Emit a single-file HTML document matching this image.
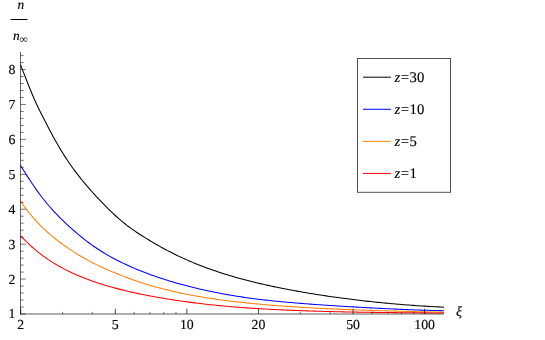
<!DOCTYPE html>
<html><head><meta charset="utf-8"><style>
html,body{margin:0;padding:0;background:#fff;}
svg{display:block;font-family:"Liberation Serif",serif;text-rendering:geometricPrecision;}
.t{filter:grayscale(1);stroke:#000;stroke-width:0.15px;}
</style></head><body>
<svg width="545" height="340" viewBox="0 0 545 340">
<rect width="545" height="340" fill="#fff"/>
<g fill="none" stroke-width="1.05" stroke-linejoin="round">
<path d="M20.50,64.75 L22.43,69.63 L24.37,74.58 L26.30,79.54 L28.24,84.45 L30.17,89.27 L32.10,93.96 L34.04,98.48 L35.97,102.80 L37.90,106.94 L39.84,110.93 L41.77,114.79 L43.71,118.57 L45.64,122.30 L47.57,125.99 L49.51,129.66 L51.44,133.31 L53.37,136.90 L55.31,140.41 L57.24,143.82 L59.18,147.15 L61.11,150.39 L63.04,153.54 L64.98,156.60 L66.91,159.58 L68.84,162.46 L70.78,165.25 L72.71,167.96 L74.65,170.59 L76.58,173.15 L78.51,175.65 L80.45,178.09 L82.38,180.47 L84.32,182.80 L86.25,185.10 L88.18,187.35 L90.12,189.57 L92.05,191.76 L93.98,193.92 L95.92,196.04 L97.85,198.13 L99.79,200.19 L101.72,202.22 L103.65,204.21 L105.59,206.18 L107.52,208.11 L109.45,210.02 L111.39,211.88 L113.32,213.71 L115.26,215.50 L117.19,217.25 L119.12,218.95 L121.06,220.61 L122.99,222.22 L124.92,223.78 L126.86,225.29 L128.79,226.75 L130.73,228.18 L132.66,229.56 L134.59,230.90 L136.53,232.21 L138.46,233.49 L140.39,234.74 L142.33,235.97 L144.26,237.18 L146.20,238.38 L148.13,239.57 L150.06,240.75 L152.00,241.91 L153.93,243.05 L155.87,244.18 L157.80,245.29 L159.73,246.39 L161.67,247.47 L163.60,248.52 L165.53,249.56 L167.47,250.59 L169.40,251.59 L171.34,252.58 L173.27,253.55 L175.20,254.50 L177.14,255.43 L179.07,256.35 L181.00,257.26 L182.94,258.14 L184.87,259.02 L186.81,259.87 L188.74,260.72 L190.67,261.55 L192.61,262.36 L194.54,263.16 L196.47,263.95 L198.41,264.72 L200.34,265.48 L202.28,266.22 L204.21,266.96 L206.14,267.68 L208.08,268.39 L210.01,269.09 L211.95,269.77 L213.88,270.44 L215.81,271.11 L217.75,271.76 L219.68,272.40 L221.61,273.03 L223.55,273.64 L225.48,274.25 L227.42,274.85 L229.35,275.44 L231.28,276.01 L233.22,276.58 L235.15,277.14 L237.08,277.69 L239.02,278.23 L240.95,278.76 L242.89,279.28 L244.82,279.80 L246.75,280.30 L248.69,280.80 L250.62,281.29 L252.55,281.77 L254.49,282.25 L256.42,282.72 L258.36,283.18 L260.29,283.63 L262.22,284.08 L264.16,284.52 L266.09,284.95 L268.03,285.38 L269.96,285.80 L271.89,286.22 L273.83,286.63 L275.76,287.03 L277.69,287.43 L279.63,287.82 L281.56,288.21 L283.50,288.60 L285.43,288.97 L287.36,289.35 L289.30,289.72 L291.23,290.08 L293.16,290.44 L295.10,290.79 L297.03,291.14 L298.97,291.49 L300.90,291.83 L302.83,292.17 L304.77,292.50 L306.70,292.83 L308.63,293.15 L310.57,293.47 L312.50,293.79 L314.44,294.10 L316.37,294.41 L318.30,294.71 L320.24,295.01 L322.17,295.31 L324.11,295.60 L326.04,295.89 L327.97,296.18 L329.91,296.46 L331.84,296.73 L333.77,297.01 L335.71,297.28 L337.64,297.55 L339.58,297.81 L341.51,298.07 L343.44,298.32 L345.38,298.58 L347.31,298.83 L349.24,299.07 L351.18,299.31 L353.11,299.55 L355.05,299.79 L356.98,300.02 L358.91,300.25 L360.85,300.48 L362.78,300.70 L364.71,300.92 L366.65,301.14 L368.58,301.36 L370.52,301.57 L372.45,301.78 L374.38,301.98 L376.32,302.18 L378.25,302.38 L380.18,302.58 L382.12,302.77 L384.05,302.96 L385.99,303.14 L387.92,303.33 L389.85,303.50 L391.79,303.68 L393.72,303.85 L395.66,304.02 L397.59,304.18 L399.52,304.35 L401.46,304.50 L403.39,304.66 L405.32,304.81 L407.26,304.96 L409.19,305.10 L411.13,305.24 L413.06,305.38 L414.99,305.52 L416.93,305.65 L418.86,305.77 L420.79,305.90 L422.73,306.02 L424.66,306.14 L426.60,306.25 L428.53,306.37 L430.46,306.47 L432.40,306.58 L434.33,306.68 L436.26,306.78 L438.20,306.88 L440.13,306.97 L442.07,307.06 L444.00,307.15" stroke="#000000"/>
<path d="M20.50,165.45 L22.43,168.52 L24.37,171.58 L26.30,174.61 L28.24,177.61 L30.17,180.57 L32.10,183.47 L34.04,186.32 L35.97,189.11 L37.90,191.83 L39.84,194.48 L41.77,197.05 L43.71,199.53 L45.64,201.94 L47.57,204.26 L49.51,206.51 L51.44,208.69 L53.37,210.80 L55.31,212.86 L57.24,214.88 L59.18,216.84 L61.11,218.77 L63.04,220.66 L64.98,222.51 L66.91,224.32 L68.84,226.11 L70.78,227.86 L72.71,229.58 L74.65,231.27 L76.58,232.94 L78.51,234.57 L80.45,236.18 L82.38,237.76 L84.32,239.31 L86.25,240.81 L88.18,242.28 L90.12,243.71 L92.05,245.10 L93.98,246.46 L95.92,247.77 L97.85,249.06 L99.79,250.31 L101.72,251.53 L103.65,252.72 L105.59,253.87 L107.52,255.01 L109.45,256.11 L111.39,257.19 L113.32,258.24 L115.26,259.27 L117.19,260.27 L119.12,261.25 L121.06,262.21 L122.99,263.15 L124.92,264.07 L126.86,264.97 L128.79,265.85 L130.73,266.71 L132.66,267.56 L134.59,268.39 L136.53,269.20 L138.46,270.00 L140.39,270.78 L142.33,271.55 L144.26,272.30 L146.20,273.04 L148.13,273.76 L150.06,274.48 L152.00,275.18 L153.93,275.86 L155.87,276.54 L157.80,277.20 L159.73,277.85 L161.67,278.49 L163.60,279.12 L165.53,279.74 L167.47,280.34 L169.40,280.94 L171.34,281.52 L173.27,282.10 L175.20,282.66 L177.14,283.21 L179.07,283.76 L181.00,284.29 L182.94,284.82 L184.87,285.33 L186.81,285.84 L188.74,286.34 L190.67,286.83 L192.61,287.31 L194.54,287.78 L196.47,288.24 L198.41,288.70 L200.34,289.15 L202.28,289.59 L204.21,290.02 L206.14,290.44 L208.08,290.86 L210.01,291.27 L211.95,291.67 L213.88,292.06 L215.81,292.45 L217.75,292.83 L219.68,293.20 L221.61,293.56 L223.55,293.92 L225.48,294.27 L227.42,294.61 L229.35,294.95 L231.28,295.28 L233.22,295.60 L235.15,295.92 L237.08,296.23 L239.02,296.53 L240.95,296.82 L242.89,297.11 L244.82,297.40 L246.75,297.67 L248.69,297.94 L250.62,298.21 L252.55,298.47 L254.49,298.72 L256.42,298.97 L258.36,299.21 L260.29,299.45 L262.22,299.68 L264.16,299.90 L266.09,300.12 L268.03,300.34 L269.96,300.55 L271.89,300.75 L273.83,300.96 L275.76,301.15 L277.69,301.34 L279.63,301.53 L281.56,301.72 L283.50,301.90 L285.43,302.08 L287.36,302.25 L289.30,302.42 L291.23,302.59 L293.16,302.76 L295.10,302.92 L297.03,303.08 L298.97,303.24 L300.90,303.39 L302.83,303.54 L304.77,303.69 L306.70,303.84 L308.63,303.99 L310.57,304.13 L312.50,304.27 L314.44,304.41 L316.37,304.55 L318.30,304.69 L320.24,304.82 L322.17,304.95 L324.11,305.09 L326.04,305.21 L327.97,305.34 L329.91,305.47 L331.84,305.60 L333.77,305.72 L335.71,305.84 L337.64,305.96 L339.58,306.08 L341.51,306.20 L343.44,306.32 L345.38,306.44 L347.31,306.55 L349.24,306.67 L351.18,306.78 L353.11,306.89 L355.05,307.00 L356.98,307.11 L358.91,307.22 L360.85,307.33 L362.78,307.44 L364.71,307.54 L366.65,307.65 L368.58,307.75 L370.52,307.86 L372.45,307.96 L374.38,308.06 L376.32,308.16 L378.25,308.26 L380.18,308.36 L382.12,308.46 L384.05,308.56 L385.99,308.65 L387.92,308.75 L389.85,308.84 L391.79,308.93 L393.72,309.03 L395.66,309.11 L397.59,309.20 L399.52,309.29 L401.46,309.37 L403.39,309.46 L405.32,309.54 L407.26,309.61 L409.19,309.69 L411.13,309.77 L413.06,309.84 L414.99,309.91 L416.93,309.98 L418.86,310.04 L420.79,310.11 L422.73,310.17 L424.66,310.23 L426.60,310.29 L428.53,310.35 L430.46,310.40 L432.40,310.45 L434.33,310.50 L436.26,310.55 L438.20,310.59 L440.13,310.64 L442.07,310.68 L444.00,310.71" stroke="#0000ff"/>
<path d="M20.50,201.13 L22.43,203.88 L24.37,206.53 L26.30,209.10 L28.24,211.59 L30.17,213.99 L32.10,216.31 L34.04,218.55 L35.97,220.72 L37.90,222.81 L39.84,224.83 L41.77,226.78 L43.71,228.67 L45.64,230.49 L47.57,232.25 L49.51,233.96 L51.44,235.62 L53.37,237.22 L55.31,238.78 L57.24,240.30 L59.18,241.77 L61.11,243.21 L63.04,244.61 L64.98,245.98 L66.91,247.31 L68.84,248.62 L70.78,249.90 L72.71,251.15 L74.65,252.38 L76.58,253.59 L78.51,254.77 L80.45,255.93 L82.38,257.07 L84.32,258.19 L86.25,259.29 L88.18,260.36 L90.12,261.41 L92.05,262.43 L93.98,263.43 L95.92,264.40 L97.85,265.36 L99.79,266.28 L101.72,267.19 L103.65,268.08 L105.59,268.95 L107.52,269.81 L109.45,270.64 L111.39,271.46 L113.32,272.27 L115.26,273.06 L117.19,273.84 L119.12,274.61 L121.06,275.37 L122.99,276.12 L124.92,276.85 L126.86,277.58 L128.79,278.29 L130.73,278.99 L132.66,279.68 L134.59,280.36 L136.53,281.03 L138.46,281.68 L140.39,282.32 L142.33,282.95 L144.26,283.57 L146.20,284.18 L148.13,284.77 L150.06,285.36 L152.00,285.93 L153.93,286.49 L155.87,287.03 L157.80,287.57 L159.73,288.09 L161.67,288.60 L163.60,289.10 L165.53,289.59 L167.47,290.07 L169.40,290.54 L171.34,291.00 L173.27,291.44 L175.20,291.88 L177.14,292.31 L179.07,292.73 L181.00,293.13 L182.94,293.54 L184.87,293.93 L186.81,294.31 L188.74,294.68 L190.67,295.05 L192.61,295.41 L194.54,295.76 L196.47,296.10 L198.41,296.44 L200.34,296.77 L202.28,297.09 L204.21,297.41 L206.14,297.72 L208.08,298.02 L210.01,298.31 L211.95,298.60 L213.88,298.89 L215.81,299.17 L217.75,299.44 L219.68,299.71 L221.61,299.97 L223.55,300.22 L225.48,300.47 L227.42,300.72 L229.35,300.96 L231.28,301.20 L233.22,301.43 L235.15,301.66 L237.08,301.88 L239.02,302.10 L240.95,302.31 L242.89,302.52 L244.82,302.72 L246.75,302.92 L248.69,303.12 L250.62,303.32 L252.55,303.51 L254.49,303.69 L256.42,303.87 L258.36,304.05 L260.29,304.23 L262.22,304.40 L264.16,304.57 L266.09,304.74 L268.03,304.90 L269.96,305.06 L271.89,305.21 L273.83,305.37 L275.76,305.52 L277.69,305.67 L279.63,305.81 L281.56,305.95 L283.50,306.09 L285.43,306.23 L287.36,306.37 L289.30,306.50 L291.23,306.63 L293.16,306.76 L295.10,306.88 L297.03,307.01 L298.97,307.13 L300.90,307.25 L302.83,307.36 L304.77,307.48 L306.70,307.59 L308.63,307.70 L310.57,307.81 L312.50,307.91 L314.44,308.02 L316.37,308.12 L318.30,308.22 L320.24,308.32 L322.17,308.42 L324.11,308.52 L326.04,308.61 L327.97,308.70 L329.91,308.79 L331.84,308.88 L333.77,308.97 L335.71,309.06 L337.64,309.14 L339.58,309.23 L341.51,309.31 L343.44,309.39 L345.38,309.47 L347.31,309.55 L349.24,309.62 L351.18,309.70 L353.11,309.77 L355.05,309.85 L356.98,309.92 L358.91,309.99 L360.85,310.06 L362.78,310.13 L364.71,310.19 L366.65,310.26 L368.58,310.32 L370.52,310.39 L372.45,310.45 L374.38,310.51 L376.32,310.57 L378.25,310.63 L380.18,310.69 L382.12,310.75 L384.05,310.81 L385.99,310.86 L387.92,310.92 L389.85,310.97 L391.79,311.03 L393.72,311.08 L395.66,311.13 L397.59,311.18 L399.52,311.23 L401.46,311.28 L403.39,311.33 L405.32,311.38 L407.26,311.42 L409.19,311.47 L411.13,311.52 L413.06,311.56 L414.99,311.61 L416.93,311.65 L418.86,311.69 L420.79,311.73 L422.73,311.77 L424.66,311.82 L426.60,311.86 L428.53,311.90 L430.46,311.93 L432.40,311.97 L434.33,312.01 L436.26,312.05 L438.20,312.08 L440.13,312.12 L442.07,312.15 L444.00,312.19" stroke="#ff8000"/>
<path d="M20.50,235.53 L22.43,237.62 L24.37,239.63 L26.30,241.58 L28.24,243.45 L30.17,245.26 L32.10,247.01 L34.04,248.70 L35.97,250.33 L37.90,251.91 L39.84,253.43 L41.77,254.91 L43.71,256.34 L45.64,257.72 L47.57,259.06 L49.51,260.35 L51.44,261.61 L53.37,262.82 L55.31,264.00 L57.24,265.14 L59.18,266.25 L61.11,267.33 L63.04,268.37 L64.98,269.39 L66.91,270.37 L68.84,271.33 L70.78,272.26 L72.71,273.16 L74.65,274.04 L76.58,274.90 L78.51,275.73 L80.45,276.54 L82.38,277.33 L84.32,278.09 L86.25,278.84 L88.18,279.57 L90.12,280.28 L92.05,280.98 L93.98,281.65 L95.92,282.31 L97.85,282.95 L99.79,283.58 L101.72,284.20 L103.65,284.79 L105.59,285.38 L107.52,285.95 L109.45,286.51 L111.39,287.06 L113.32,287.59 L115.26,288.12 L117.19,288.63 L119.12,289.13 L121.06,289.62 L122.99,290.10 L124.92,290.57 L126.86,291.04 L128.79,291.49 L130.73,291.93 L132.66,292.37 L134.59,292.79 L136.53,293.21 L138.46,293.62 L140.39,294.03 L142.33,294.42 L144.26,294.81 L146.20,295.19 L148.13,295.57 L150.06,295.93 L152.00,296.30 L153.93,296.65 L155.87,297.00 L157.80,297.34 L159.73,297.68 L161.67,298.01 L163.60,298.34 L165.53,298.66 L167.47,298.98 L169.40,299.29 L171.34,299.59 L173.27,299.89 L175.20,300.19 L177.14,300.48 L179.07,300.76 L181.00,301.04 L182.94,301.32 L184.87,301.59 L186.81,301.85 L188.74,302.11 L190.67,302.36 L192.61,302.61 L194.54,302.86 L196.47,303.10 L198.41,303.33 L200.34,303.56 L202.28,303.79 L204.21,304.01 L206.14,304.23 L208.08,304.44 L210.01,304.65 L211.95,304.85 L213.88,305.05 L215.81,305.25 L217.75,305.44 L219.68,305.63 L221.61,305.81 L223.55,305.99 L225.48,306.17 L227.42,306.34 L229.35,306.51 L231.28,306.67 L233.22,306.84 L235.15,306.99 L237.08,307.15 L239.02,307.30 L240.95,307.45 L242.89,307.59 L244.82,307.73 L246.75,307.87 L248.69,308.00 L250.62,308.14 L252.55,308.27 L254.49,308.39 L256.42,308.51 L258.36,308.63 L260.29,308.75 L262.22,308.87 L264.16,308.98 L266.09,309.09 L268.03,309.20 L269.96,309.30 L271.89,309.40 L273.83,309.50 L275.76,309.60 L277.69,309.69 L279.63,309.79 L281.56,309.88 L283.50,309.97 L285.43,310.05 L287.36,310.14 L289.30,310.22 L291.23,310.30 L293.16,310.38 L295.10,310.45 L297.03,310.53 L298.97,310.60 L300.90,310.67 L302.83,310.74 L304.77,310.81 L306.70,310.88 L308.63,310.94 L310.57,311.00 L312.50,311.07 L314.44,311.13 L316.37,311.18 L318.30,311.24 L320.24,311.30 L322.17,311.35 L324.11,311.40 L326.04,311.45 L327.97,311.50 L329.91,311.55 L331.84,311.60 L333.77,311.65 L335.71,311.69 L337.64,311.74 L339.58,311.78 L341.51,311.82 L343.44,311.86 L345.38,311.90 L347.31,311.94 L349.24,311.98 L351.18,312.02 L353.11,312.05 L355.05,312.09 L356.98,312.12 L358.91,312.16 L360.85,312.19 L362.78,312.22 L364.71,312.25 L366.65,312.28 L368.58,312.31 L370.52,312.34 L372.45,312.37 L374.38,312.39 L376.32,312.42 L378.25,312.44 L380.18,312.47 L382.12,312.49 L384.05,312.52 L385.99,312.54 L387.92,312.56 L389.85,312.58 L391.79,312.60 L393.72,312.62 L395.66,312.64 L397.59,312.66 L399.52,312.68 L401.46,312.70 L403.39,312.72 L405.32,312.73 L407.26,312.75 L409.19,312.77 L411.13,312.78 L413.06,312.80 L414.99,312.81 L416.93,312.82 L418.86,312.84 L420.79,312.85 L422.73,312.86 L424.66,312.88 L426.60,312.89 L428.53,312.90 L430.46,312.91 L432.40,312.92 L434.33,312.93 L436.26,312.94 L438.20,312.95 L440.13,312.96 L442.07,312.96 L444.00,312.97" stroke="#ff0000"/>
</g>
<g stroke="#000" fill="none">
<line x1="20.5" y1="52" x2="20.5" y2="314.35" stroke-width="0.6"/>
<line x1="20.15" y1="314.0" x2="444.0" y2="314.0" stroke-width="0.64"/>
</g>
<g stroke="#000" stroke-width="0.55" fill="none">
<line x1="20.70" y1="314.0" x2="20.70" y2="308.7" stroke-width="0.7"/>
<line x1="115.31" y1="314.0" x2="115.31" y2="308.7" stroke-width="0.7"/>
<line x1="186.87" y1="314.0" x2="186.87" y2="308.7" stroke-width="0.7"/>
<line x1="258.44" y1="314.0" x2="258.44" y2="308.7" stroke-width="0.7"/>
<line x1="353.05" y1="314.0" x2="353.05" y2="308.7" stroke-width="0.7"/>
<line x1="424.61" y1="314.0" x2="424.61" y2="308.7" stroke-width="0.7"/>
<line x1="62.56" y1="314.0" x2="62.56" y2="311.9"/>
<line x1="92.27" y1="314.0" x2="92.27" y2="311.9"/>
<line x1="134.13" y1="314.0" x2="134.13" y2="311.9"/>
<line x1="150.05" y1="314.0" x2="150.05" y2="311.9"/>
<line x1="163.83" y1="314.0" x2="163.83" y2="311.9"/>
<line x1="175.99" y1="314.0" x2="175.99" y2="311.9"/>
<line x1="300.30" y1="314.0" x2="300.30" y2="311.9"/>
<line x1="330.01" y1="314.0" x2="330.01" y2="311.9"/>
<line x1="371.87" y1="314.0" x2="371.87" y2="311.9"/>
<line x1="387.79" y1="314.0" x2="387.79" y2="311.9"/>
<line x1="401.57" y1="314.0" x2="401.57" y2="311.9"/>
<line x1="413.73" y1="314.0" x2="413.73" y2="311.9"/>
<line x1="20.5" y1="314.00" x2="25.8" y2="314.00"/>
<line x1="20.5" y1="307.02" x2="23.7" y2="307.02"/>
<line x1="20.5" y1="300.03" x2="23.7" y2="300.03"/>
<line x1="20.5" y1="293.05" x2="23.7" y2="293.05"/>
<line x1="20.5" y1="286.06" x2="23.7" y2="286.06"/>
<line x1="20.5" y1="279.08" x2="25.8" y2="279.08"/>
<line x1="20.5" y1="272.10" x2="23.7" y2="272.10"/>
<line x1="20.5" y1="265.11" x2="23.7" y2="265.11"/>
<line x1="20.5" y1="258.13" x2="23.7" y2="258.13"/>
<line x1="20.5" y1="251.14" x2="23.7" y2="251.14"/>
<line x1="20.5" y1="244.16" x2="25.8" y2="244.16"/>
<line x1="20.5" y1="237.18" x2="23.7" y2="237.18"/>
<line x1="20.5" y1="230.19" x2="23.7" y2="230.19"/>
<line x1="20.5" y1="223.21" x2="23.7" y2="223.21"/>
<line x1="20.5" y1="216.22" x2="23.7" y2="216.22"/>
<line x1="20.5" y1="209.24" x2="25.8" y2="209.24"/>
<line x1="20.5" y1="202.26" x2="23.7" y2="202.26"/>
<line x1="20.5" y1="195.27" x2="23.7" y2="195.27"/>
<line x1="20.5" y1="188.29" x2="23.7" y2="188.29"/>
<line x1="20.5" y1="181.30" x2="23.7" y2="181.30"/>
<line x1="20.5" y1="174.32" x2="25.8" y2="174.32"/>
<line x1="20.5" y1="167.34" x2="23.7" y2="167.34"/>
<line x1="20.5" y1="160.35" x2="23.7" y2="160.35"/>
<line x1="20.5" y1="153.37" x2="23.7" y2="153.37"/>
<line x1="20.5" y1="146.38" x2="23.7" y2="146.38"/>
<line x1="20.5" y1="139.40" x2="25.8" y2="139.40"/>
<line x1="20.5" y1="132.42" x2="23.7" y2="132.42"/>
<line x1="20.5" y1="125.43" x2="23.7" y2="125.43"/>
<line x1="20.5" y1="118.45" x2="23.7" y2="118.45"/>
<line x1="20.5" y1="111.46" x2="23.7" y2="111.46"/>
<line x1="20.5" y1="104.48" x2="25.8" y2="104.48"/>
<line x1="20.5" y1="97.50" x2="23.7" y2="97.50"/>
<line x1="20.5" y1="90.51" x2="23.7" y2="90.51"/>
<line x1="20.5" y1="83.53" x2="23.7" y2="83.53"/>
<line x1="20.5" y1="76.54" x2="23.7" y2="76.54"/>
<line x1="20.5" y1="69.56" x2="25.8" y2="69.56"/>
<line x1="20.5" y1="62.58" x2="23.7" y2="62.58"/>
<line x1="20.5" y1="55.59" x2="23.7" y2="55.59"/>
</g>
<g class="t" font-size="13.8" fill="#000">
<text x="20.70" y="328.9" text-anchor="middle">2</text>
<text x="115.31" y="328.9" text-anchor="middle">5</text>
<text x="186.87" y="328.9" text-anchor="middle">10</text>
<text x="258.44" y="328.9" text-anchor="middle">20</text>
<text x="353.05" y="328.9" text-anchor="middle">50</text>
<text x="424.61" y="328.9" text-anchor="middle">100</text>
<text x="15.5" y="317.90" text-anchor="end">1</text>
<text x="15.5" y="283.68" text-anchor="end">2</text>
<text x="15.5" y="248.76" text-anchor="end">3</text>
<text x="15.5" y="213.84" text-anchor="end">4</text>
<text x="15.5" y="178.92" text-anchor="end">5</text>
<text x="15.5" y="144.00" text-anchor="end">6</text>
<text x="15.5" y="109.08" text-anchor="end">7</text>
<text x="15.5" y="74.16" text-anchor="end">8</text>
</g>
<g class="t" fill="#000">
<text x="20.9" y="8.9" font-size="13.4" font-style="italic" text-anchor="middle">n</text>
<line x1="10.5" y1="19.5" x2="27.5" y2="19.5" stroke="#000" stroke-width="1"/>
<text x="13" y="39.6" font-size="13.4" font-style="italic">n</text>
<text x="19.5" y="42.5" font-size="11.6" stroke="none">∞</text>
<text x="455.9" y="316.1" font-size="14" font-style="italic">ξ</text>
</g>
<rect x="357.5" y="58.5" width="93" height="133.8" fill="#fff" stroke="#505050" stroke-width="1"/>
<line x1="363" y1="77.20" x2="390.9" y2="77.20" stroke="#000000" stroke-width="1"/>
<line x1="363" y1="109.27" x2="390.9" y2="109.27" stroke="#0000ff" stroke-width="1"/>
<line x1="363" y1="141.34" x2="390.9" y2="141.34" stroke="#ff8000" stroke-width="1"/>
<line x1="363" y1="173.41" x2="390.9" y2="173.41" stroke="#ff0000" stroke-width="1"/>
<g class="t" fill="#000">
<text x="394.6" y="81.80" font-size="14.7"><tspan font-style="italic">z</tspan><tspan dx="0.5">=</tspan><tspan dx="0.5">30</tspan></text>
<text x="394.6" y="113.87" font-size="14.7"><tspan font-style="italic">z</tspan><tspan dx="0.5">=</tspan><tspan dx="0.5">10</tspan></text>
<text x="394.6" y="145.94" font-size="14.7"><tspan font-style="italic">z</tspan><tspan dx="0.5">=</tspan><tspan dx="0.5">5</tspan></text>
<text x="394.6" y="178.01" font-size="14.7"><tspan font-style="italic">z</tspan><tspan dx="0.5">=</tspan><tspan dx="0.5">1</tspan></text>
</g>
</svg>
</body></html>
